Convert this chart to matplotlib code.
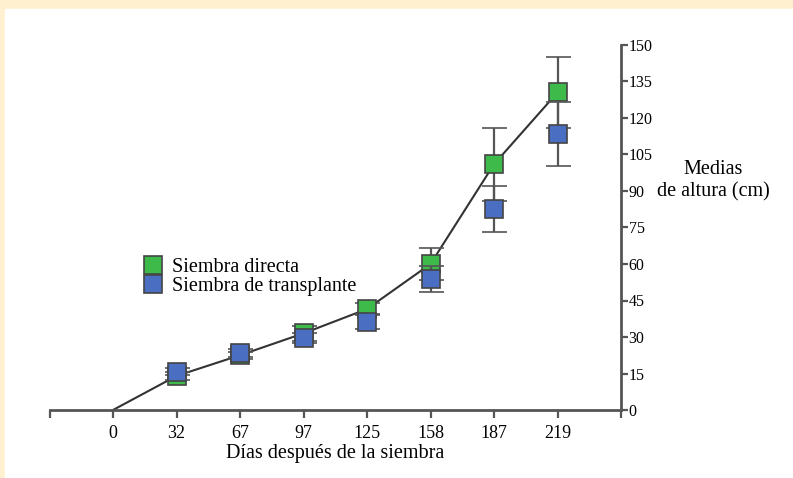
import matplotlib.pyplot as plt
from matplotlib.lines import Line2D

plt.rcParams['font.family'] = ['Liberation Serif', 'DejaVu Serif']

dias = ["0", "32", "67", "97", "125", "158", "187", "219"]

directa = [0, 14, 22.5, 31.5, 41.5, 60, 101, 130.5]
directa_err = [0, 1.5, 1.5, 3, 2.5, 6.5, 15, 14.5]

transplante = [15.8, 23.4, 29.5, 36.3, 53.8, 82.5, 113.5]
transplante_err = [1.5, 1.5, 2, 3, 5.5, 9.5, 13.2]

verde = "#3dba4a"
azul = "#4a6fc2"
gris = "#555555"

fig = plt.figure(figsize=(7.93, 4.78), dpi=100)
fig.patch.set_facecolor("#fff0d0")
# white panel inside the cream frame
fig.add_artist(plt.Rectangle((5 / 793, 0), 1, 1 - 9 / 478,
                             transform=fig.transFigure, color="white", zorder=0))

ax = fig.add_axes([49.5 / 793, 1 - 410 / 478, (621 - 49.5) / 793, (410 - 45) / 478])
ax.patch.set_alpha(0)

x = list(range(len(dias)))

ax.plot(x, directa, color="#333333", lw=1.5, zorder=2)
ax.errorbar(x[1:], directa[1:], yerr=directa_err[1:], fmt="s", ms=13,
            mfc=verde, mec="#444444", mew=1.2, ecolor=gris, elinewidth=1.6,
            capsize=9, capthick=1.6, zorder=3)
ax.errorbar(x[1:], transplante, yerr=transplante_err, fmt="s", ms=13,
            mfc=azul, mec="#444444", mew=1.2, ecolor=gris, elinewidth=1.6,
            capsize=9, capthick=1.6, zorder=4)

ax.set_xlim(-1, 8)
ax.set_ylim(0, 150)
ax.set_xticks(range(-1, 9))
ax.set_xticklabels([""] + dias + [""], fontsize=13)
ax.set_yticks(range(0, 151, 15))
ax.tick_params(axis="y", labelsize=11.5, length=5, width=1.6, color=gris, pad=0.5)
ax.tick_params(axis="x", length=6, width=1.6, color=gris, pad=5)
ax.yaxis.tick_right()

for s in ["top", "left"]:
    ax.spines[s].set_visible(False)
for s in ["bottom", "right"]:
    ax.spines[s].set_color(gris)
    ax.spines[s].set_linewidth(2)

ax.set_xlabel("Días después de la siembra", fontsize=14.5, labelpad=1)
fig.text(713 / 793, 1 - 181 / 478, "Medias\nde altura (cm)", ha="center", va="center",
         fontsize=14.5, linespacing=1.2)

handles = [
    Line2D([], [], marker="s", ls="none", ms=13.5, mfc=verde, mec="#444444", mew=1.2),
    Line2D([], [], marker="s", ls="none", ms=13.5, mfc=azul, mec="#444444", mew=1.2),
]
fig.legend(handles, ["Siembra directa", "Siembra de transplante"],
           loc="upper left", bbox_to_anchor=(135 / 793, 1 - 248 / 478),
           frameon=False, fontsize=14.5, handlelength=0.8, handletextpad=0.55,
           labelspacing=0.0, borderpad=0)

fig.savefig("out.png", dpi=100)
